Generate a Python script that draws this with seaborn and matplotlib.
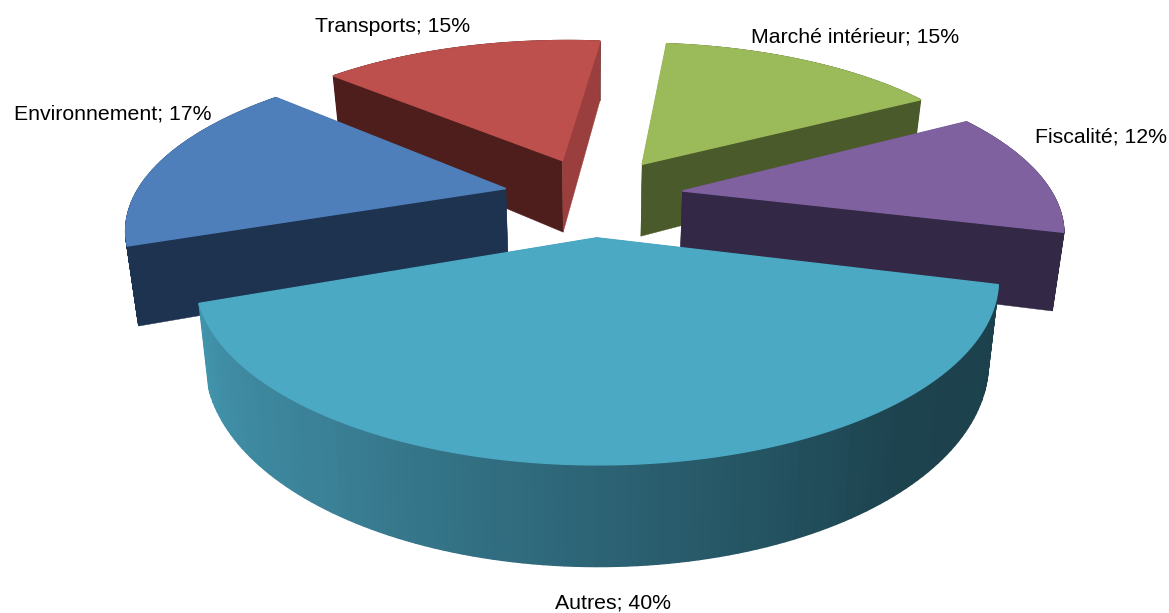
import numpy as np
import matplotlib
matplotlib.use("Agg")
import matplotlib.pyplot as plt
import seaborn as sns

# ---- data (clockwise, starting with the front slice)
categories = ["Autres", "Environnement", "Transports", "Marché intérieur", "Fiscalité"]
shares = [40, 17, 15, 15, 12]

# ---- styles
top_colors = ["#4BA9C4", "#4E7FBB", "#BD4F4C", "#9BBA59", "#7F61A0"]
wall_colors = ["#1D434E", "#1E334F", "#4E1E1C", "#4B5A2A", "#332845"]
cut_colors = ["#1D434E", "#1E334F", "#9A3F3D", "#4B5A2A", "#332845"]
autres_wall = ["#1C414C", "#1D434F", "#2B6172", "#3A7F95", "#4294AC"]
paint_order = [2, 3, 1, 4, 0]
slice_nudge = [-5, -1, -3, -4, -6]
label_xy = [(613, 603), (113, 114), (393, 27), (855, 37), (1101, 137)]

# ---- projection parameters of the 3-D pie
CX, CY, A, B, K, H, SHRINK = 597, 196, 371, 158.7, 0.21, 75, 0.975
EXPLODE = 0.25
START = 104.5

sns.set_theme(style="white")
plt.rcParams["font.family"] = ["Liberation Sans", "DejaVu Sans"]

fig = plt.figure(figsize=(11.69, 6.13), dpi=100)
ax = fig.add_axes([0, 0, 1, 1])
ax.set_xlim(0, 1169)
ax.set_ylim(613, 0)
ax.axis("off")


def project(theta, r, ex, ey, nudge, low=False):
    """theta in degrees clockwise from the back of the pie."""
    t = np.radians(theta)
    u = r * np.sin(t) + ex
    v = r * np.cos(t) + ey
    w = 1 / (1 + K * v)
    x = A * u * w * (SHRINK if low else 1)
    y = -B * v * w + (H * w if low else 0)
    return CX + nudge + x, CY + y


spans = np.array(shares) / np.sum(shares) * 360
starts = START + np.concatenate([[0], np.cumsum(spans)[:-1]])

for i in paint_order:
    a0, a1 = starts[i], starts[i] + spans[i]
    mid = np.radians((a0 + a1) / 2)
    ex, ey = EXPLODE * np.sin(mid), EXPLODE * np.cos(mid)
    n = slice_nudge[i]
    th = np.linspace(a0, a1, 120)
    xt, yt = project(th, np.ones_like(th), ex, ey, n)
    xb, yb = project(th, np.ones_like(th), ex, ey, n, low=True)
    cxt, cyt = project(0, 0, ex, ey, n)
    cxb, cyb = project(0, 0, ex, ey, n, low=True)

    if i == 0:
        shades = sns.blend_palette(autres_wall, n_colors=len(th) - 1)
    else:
        shades = [wall_colors[i]] * (len(th) - 1)

    def wall(back):
        for j in range(len(th) - 1):
            if (np.cos(np.radians(th[j])) > 0) == back:
                ax.fill([xt[j], xt[j + 1], xb[j + 1], xb[j]],
                        [yt[j], yt[j + 1], yb[j + 1], yb[j]],
                        color=shades[j], lw=1.0)

    wall(True)
    # radial cut faces
    ax.fill([cxt, xt[0], xb[0], cxb], [cyt, yt[0], yb[0], cyb], color=wall_colors[i], lw=0.3)
    ax.fill([cxt, xt[-1], xb[-1], cxb], [cyt, yt[-1], yb[-1], cyb], color=cut_colors[i], lw=0.3)
    wall(False)

    # top face
    ax.fill(np.r_[cxt, xt], np.r_[cyt, yt], color=top_colors[i], lw=1.0)

for name, share, (lx, ly) in zip(categories, shares, label_xy):
    ax.text(lx, ly, f"{name}; {share}%", ha="center", va="center",
            fontsize=15.3, color="black")

fig.savefig("out.png", dpi=100, facecolor="white")
